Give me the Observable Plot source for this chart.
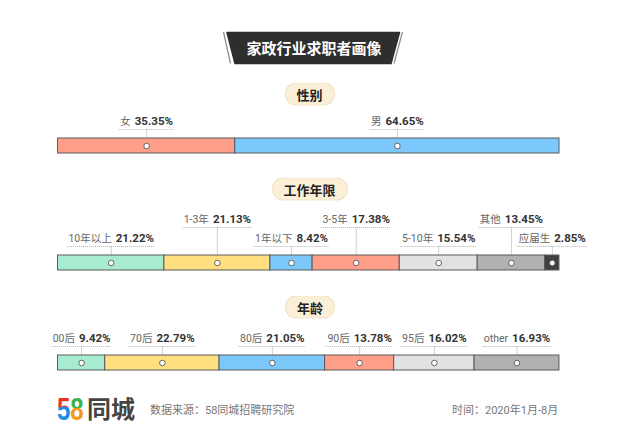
<!DOCTYPE html>
<html><head><meta charset="utf-8">
<script src="https://cdn.jsdelivr.net/npm/d3@7"></script>
<script src="https://cdn.jsdelivr.net/npm/@observablehq/plot@0.6"></script>
<style>
body{margin:0;background:#fff;}
#page{position:relative;width:617px;height:445px;overflow:hidden;font-family:Roboto,"Noto Sans CJK SC",sans-serif;background:#fff;}
.pill{position:absolute;height:21px;line-height:21px;border:1px dotted #e3cfa8;background:#fcefd8;border-radius:12px;text-align:center;font-family:"Noto Sans CJK SC",sans-serif;font-weight:bold;font-size:13px;color:#222;transform:translate(-50%,-50%);padding:0 11px;white-space:nowrap;}
.chart{position:absolute;left:0;}
#overlay{position:absolute;left:0;top:0;}
</style></head>
<body><div id="page"></div>
<script>
// ---- data ----
const titleText = "家政行业求职者画像";
const sectionTitles = ["性别", "工作年限", "年龄"];
const genderNames = ["女", "男"];
const genderValues = [35.35, 64.65];
const tenureNames = ["10年以上", "1-3年", "1年以下", "3-5年", "5-10年", "其他", "应届生"];
const tenureValues = [21.22, 21.13, 8.42, 17.38, 15.54, 13.45, 2.85];
const ageNames = ["00后", "70后", "80后", "90后", "95后", "other"];
const ageValues = [9.42, 22.79, 21.05, 13.78, 16.02, 16.93];
const sourceText = "数据来源：58同城招聘研究院";
const timeText = "时间：2020年1月-8月";

// ---- styles ----
const genderColors = ["#ff9f8a", "#7cc8fb"];
const tenureColors = ["#a7ecd0", "#ffdf80", "#7cc8fb", "#ff9f8a", "#e1e2e1", "#b1b1b1", "#404040"];
const ageColors = ["#a7ecd0", "#ffdf80", "#7cc8fb", "#ff9f8a", "#e1e2e1", "#b1b1b1"];

const W = 617, ML = 57.5, MR = 58, UNIT = 15, MB = 3;
const pxPerPct = (W - ML - MR) / 100;
const ctx = document.createElement("canvas").getContext("2d");
const NAME_SIZE = 10.5, VAL_SIZE = 11.5;
const FAM = 'Roboto, "Noto Sans CJK SC", sans-serif';
function tw(font, s) { ctx.font = font; return ctx.measureText(s).width; }

const page = document.getElementById("page");

function makeChart(names, values, colors, height, top, stagger) {
  const ends = d3.cumsum(values);
  const rows = names.map((name, i) => {
    const x2 = ends[i], x1 = x2 - values[i], mid = (x1 + x2) / 2;
    const label = values[i].toFixed(2) + "%";
    const nw = tw(`${NAME_SIZE}px ${FAM}`, name);
    const vw = tw(`bold ${VAL_SIZE}px ${FAM}`, label);
    const gap = 4, total = nw + gap + vw;
    const row = stagger ? i % 2 : 0;
    const line = 1 + (9 + row * 19) / UNIT;
    return {
      name, label, x1, x2, mid, line,
      textY: line + 8 / UNIT,
      nameEnd: mid + (-total / 2 + nw) / pxPerPct,
      valStart: mid + (-total / 2 + nw + gap) / pxPerPct,
      u1: mid - (total / 2 + 1) / pxPerPct,
      u2: mid + (total / 2 + 1) / pxPerPct
    };
  });
  const chart = Plot.plot({
    width: W, height,
    marginLeft: ML, marginRight: MR, marginTop: 0, marginBottom: MB,
    x: {domain: [0, 100], axis: null},
    y: {domain: [0, (height - MB) / UNIT], axis: null},
    color: {domain: names, range: colors},
    style: {background: "transparent", overflow: "visible", fontFamily: FAM},
    marks: [
      Plot.ruleY(rows, {y: "line", x1: "u1", x2: "u2", stroke: "#b5b5b5", strokeDasharray: "1,1"}),
      Plot.ruleX(rows, {x: "mid", y1: 0.5, y2: "line", stroke: "#a0a0a0", strokeDasharray: "1,1"}),
      Plot.rect(rows, {x1: "x1", x2: "x2", y1: 0, y2: 1, fill: "name", stroke: "#5a5a5a", strokeWidth: 1}),
      Plot.dot(rows, {x: "mid", y: 0.5, r: 2.8, fill: "#fff", stroke: "#666", strokeWidth: 1}),
      Plot.text(rows, {x: "nameEnd", y: "textY", text: "name", textAnchor: "end", fontSize: NAME_SIZE, fill: "#666"}),
      Plot.text(rows, {x: "valStart", y: "textY", text: "label", textAnchor: "start", fontSize: VAL_SIZE, fontWeight: "bold", fill: "#333"})
    ]
  });
  chart.classList.add("chart");
  chart.style.top = top + "px";
  page.appendChild(chart);
}

makeChart(genderNames, genderValues, genderColors, 48, 108, false);
makeChart(tenureNames, tenureValues, tenureColors, 68, 205, true);
makeChart(ageNames, ageValues, ageColors, 48, 325, false);

// section pills
const pillPos = [[309.5, 93.5], [309.5, 189], [310, 306.5]];
sectionTitles.forEach((t, i) => {
  const d = document.createElement("div");
  d.className = "pill";
  d.textContent = t;
  d.style.left = pillPos[i][0] + "px";
  d.style.top = pillPos[i][1] + "px";
  page.appendChild(d);
});

// overlay: title banner, logo, footer
const svg = d3.select(page).append("svg").attr("id", "overlay")
  .attr("width", W).attr("height", 445).style("pointer-events", "none");
const defs = svg.append("defs");
const g5 = defs.append("linearGradient").attr("id", "g5").attr("gradientUnits", "userSpaceOnUse")
  .attr("x1", 0).attr("y1", -18).attr("x2", 0).attr("y2", 0.5);
g5.append("stop").attr("offset", "0.42").attr("stop-color", "#e8342f");
g5.append("stop").attr("offset", "0.42").attr("stop-color", "#1f8de4");
const g8 = defs.append("linearGradient").attr("id", "g8").attr("gradientUnits", "userSpaceOnUse")
  .attr("x1", 0).attr("y1", -18).attr("x2", 0).attr("y2", 0.5);
g8.append("stop").attr("offset", "0.46").attr("stop-color", "#3cb34a");
g8.append("stop").attr("offset", "0.46").attr("stop-color", "#f5961d");

svg.append("path").attr("d", "M223.5,32 L230.5,63.5").attr("stroke", "#8a8a8a").attr("stroke-width", 1.2).attr("fill", "none");
svg.append("path").attr("d", "M402.5,32 L394,63.5").attr("stroke", "#8a8a8a").attr("stroke-width", 1.2).attr("fill", "none");
svg.append("path").attr("d", "M227,32.5 L399.5,32.5 L391,63.5 L235,63.5 Z")
  .attr("fill", "#2e2e2e").attr("stroke", "#2e2e2e").attr("stroke-linejoin", "round").attr("stroke-width", 1.5);
svg.append("text").attr("x", 314).attr("y", 53.5).attr("text-anchor", "middle")
  .attr("fill", "#fff").attr("font-size", 15).attr("font-weight", "bold")
  .attr("font-family", '"Noto Sans CJK SC", sans-serif').text(titleText);

const logo = svg.append("text").attr("x", 0).attr("y", 0)
  .attr("transform", "translate(57,420) scale(1,1.3)")
  .attr("font-size", 24).attr("font-weight", "bold").attr("font-family", '"Liberation Sans", Arial, sans-serif');
logo.append("tspan").attr("fill", "url(#g5)").text("5");
logo.append("tspan").attr("fill", "url(#g8)").text("8");
svg.append("text").attr("x", 87).attr("y", 418).attr("font-size", 24).attr("font-weight", 600)
  .attr("font-family", '"Noto Sans CJK SC", sans-serif').attr("fill", "#444").text("同城");

svg.append("text").attr("x", 150).attr("y", 414).attr("font-size", 11).attr("fill", "#777")
  .attr("font-family", FAM).text(sourceText);
svg.append("text").attr("x", 452).attr("y", 414).attr("font-size", 11).attr("fill", "#777")
  .attr("font-family", FAM).text(timeText);
</script>
</body></html>
